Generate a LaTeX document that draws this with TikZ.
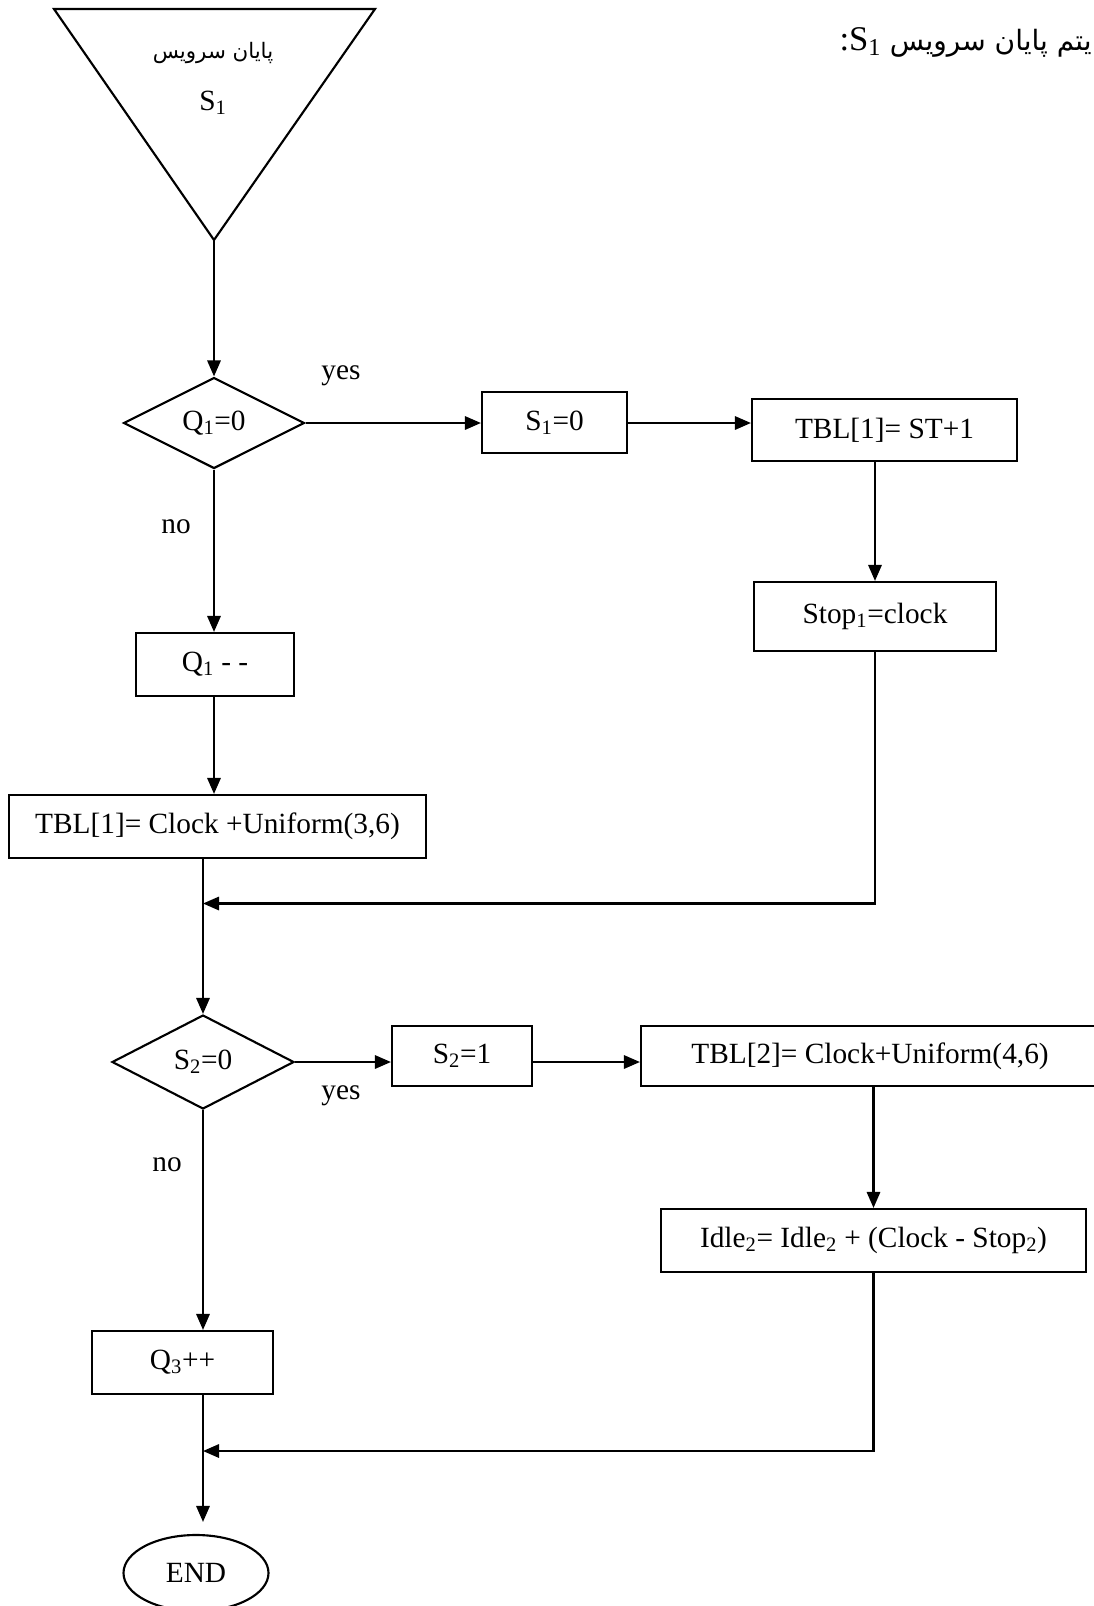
\documentclass[tikz,border=0pt]{standalone}
\usepackage{fontspec}
\setmainfont{Liberation Serif}
\newfontfamily\arabicfont[Script=Arabic]{DejaVu Sans}
\TeXXeTstate=1
\usetikzlibrary{shapes.geometric,arrows.meta}
% small lowered index, as in Q1, S2, Idle2
\newcommand\idx[1]{\textsubscript{#1}}
\begin{document}
\begin{tikzpicture}[x=0.75pt,y=-0.75pt,
  every node/.style={font=\fontsize{22}{26}\selectfont},
  line/.style={line width=1.6pt},
  box/.style={draw, line width=1.6pt, rectangle, inner sep=0pt},
  decision/.style={draw, line width=1.6pt, diamond, inner sep=0pt},
  terminal/.style={draw, line width=1.6pt, ellipse, inner sep=0pt},
  flow/.style={line width=1.6pt, -{Triangle[length=12pt,width=10pt]}},
  tag/.style={inner sep=0pt}]
\useasboundingbox (0,0) rectangle (1094,1606);

% heading
\node[anchor=east, inner sep=0pt, font=\fontsize{26}{30}\selectfont] (head) at (1092,42)
  {\beginR{\arabicfont\fontsize{21}{26}\selectfont یتم پایان سرویس} \beginL S\idx{1}\endL:\endR};

% start symbol: end of service S1
\draw[line] (54,9) -- (375,9) -- (214,240) -- cycle;
\coordinate (apex) at (214,240);
\node[tag, font=\fontsize{16}{19}\selectfont\arabicfont] (starttxt) at (213,53) {\beginR پایان سرویس\endR};
\node[tag] (startS) at (213,103) {S\idx{1}};

% first decision
\node[decision, minimum width=135.75pt, minimum height=68.25pt] (q1) at (214,423) {Q\idx{1}=0};
\node[box, minimum width=108.75pt, minimum height=45.75pt] (s1) at (554.5,422.5) {S\idx{1}=0};
\node[box, minimum width=198.75pt, minimum height=46.5pt] (tbl1) at (884.5,430) {TBL[1]= ST+1};
\node[box, minimum width=181.5pt, minimum height=51.75pt] (stop1) at (875,616.5) {Stop\idx{1}=clock};
\node[box, minimum width=118.5pt, minimum height=47.25pt] (q1m) at (215,664.5) {Q\idx{1} - -};
\node[box, minimum width=312.75pt, minimum height=47.25pt] (tbl1c) at (217.5,826.5) {TBL[1]= Clock +Uniform(3,6)};
\node[tag] (yes1) at (341,376) {yes};
\node[tag] (no1) at (176,527) {no};

% second decision
\node[decision, minimum width=136.5pt, minimum height=70.5pt] (s2) at (203,1062) {S\idx{2}=0};
\node[box, minimum width=105pt, minimum height=45pt] (s2b) at (462,1056) {S\idx{2}=1};
\node[box, minimum width=343.5pt, minimum height=45pt] (tbl2) at (870,1056) {TBL[2]= Clock+Uniform(4,6)};
\node[box, minimum width=318.75pt, minimum height=47.25pt] (idle) at (873.5,1240.5) {Idle\idx{2}= Idle\idx{2} + (Clock - Stop\idx{2})};
\node[box, minimum width=135.75pt, minimum height=47.25pt] (q3) at (182.5,1362.5) {Q\idx{3}++};
\node[terminal, minimum width=108.75pt, minimum height=57pt] (endn) at (196,1573) {END};
\node[tag] (yes2) at (341,1096) {yes};
\node[tag] (no2) at (167,1165) {no};

\coordinate (m1) at (203,903.5);
\coordinate (m2) at (203,1451);

% connectors
\draw[flow] (apex) -- (q1.north);
\draw[flow] (q1.east) -- (q1.east -| s1.west);
\draw[flow] (q1.east -| s1.east) -- (q1.east -| tbl1.west);
\draw[flow] (tbl1.south -| stop1.north) -- (stop1.north);
\draw[flow] (stop1.south) |- (m1);
\draw[flow] (q1.south) -- (q1.south |- q1m.north);
\draw[flow] (q1m.south -| q1.south) -- (q1.south |- tbl1c.north);
\draw[flow] (tbl1c.south -| s2.north) -- (s2.north);

\draw[flow] (s2.east) -- (s2.east -| s2b.west);
\draw[flow] (s2.east -| s2b.east) -- (s2.east -| tbl2.west);
\draw[flow] (tbl2.south -| idle.north) -- (idle.north);
\draw[flow] (s2.south) -- (s2.south |- q3.north);
\draw[flow] (idle.south) |- (m2);
\draw[flow, shorten >=9pt] (q3.south -| m2) -- (endn.north -| m2);
\end{tikzpicture}
\end{document}
